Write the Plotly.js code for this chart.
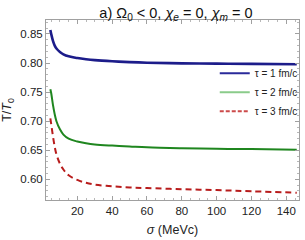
<!DOCTYPE html>
<html><head><meta charset="utf-8">
<script src="https://cdn.plot.ly/plotly-3.0.1.min.js"></script>
<style>body{margin:0;padding:0;background:#fff}#chart{width:305px;height:240px}</style>
</head><body><div id="chart"></div>
<script>
const sigma = [4.5, 5, 6, 7, 8, 10, 12, 15, 20, 25, 30, 40, 50, 60, 80, 100, 120, 146];
const tau1 = [0.857, 0.850, 0.838, 0.830, 0.825, 0.819, 0.815, 0.8115, 0.8085, 0.8065, 0.805, 0.803, 0.8015, 0.8005, 0.7995, 0.799, 0.7985, 0.798];
const tau2 = [0.755, 0.748, 0.728, 0.712, 0.700, 0.686, 0.677, 0.670, 0.665, 0.662, 0.660, 0.658, 0.6565, 0.655, 0.6535, 0.6525, 0.652, 0.651];
const tau3 = [0.705, 0.695, 0.674, 0.656, 0.643, 0.627, 0.617, 0.607, 0.599, 0.594, 0.591, 0.588, 0.586, 0.585, 0.583, 0.5815, 0.5795, 0.577];
const seriesNames = ['τ = 1 fm/c', 'τ = 2 fm/c', 'τ = 3 fm/c'];
const yTicks = [0.60, 0.65, 0.70, 0.75, 0.80, 0.85];
const xTicks = [20, 40, 60, 80, 100, 120, 140];

const cols = ['#1c1c8a', '#1f861f', '#b81c1c'];
const legCols = ['#2a2a9a', '#8acb8a', '#cc4a4a'];
const widths = [2.6, 2, 2];
const dashes = ['solid', 'solid', '6px,4px'];
const ys = [tau1, tau2, tau3];

const data = [];
ys.forEach((y, i) => {
  data.push({x: sigma, y: y, type: 'scatter', mode: 'lines', showlegend: false,
    line: {color: cols[i], width: widths[i], dash: dashes[i], shape: 'spline', smoothing: 1}});
});
seriesNames.forEach((n, i) => {
  data.push({x: [null], y: [null], type: 'scatter', mode: 'lines', name: n,
    line: {color: legCols[i], width: 2, dash: i === 2 ? '4px,2px' : 'solid'}});
});

const axCommon = {
  showgrid: false, zeroline: false, showline: true, linecolor: '#a0a0a0', linewidth: 1,
  mirror: 'ticks', ticks: 'inside', ticklen: 4, tickcolor: '#a0a0a0', tickwidth: 1,
  tickfont: {family: 'Liberation Sans, Arial, sans-serif', size: 11.5, color: '#222'},
  minor: {ticks: 'inside', ticklen: 2, tickcolor: '#b8b8b8'}
};

const layout = {
  width: 305, height: 240,
  margin: {l: 46, r: 2, t: 20, b: 40},
  paper_bgcolor: '#fff', plot_bgcolor: '#fff',
  font: {family: 'Liberation Sans, Arial, sans-serif', color: '#222'},
  title: {text: 'a) Ω<sub>0</sub> &lt; 0, <i>χ<sub>e</sub></i> = 0, <i>χ<sub>m</sub></i> = 0',
    font: {size: 14.5, color: '#111'}, x: 0.577, xanchor: 'center', y: 0.948, yanchor: 'middle', yref: 'container'},
  xaxis: Object.assign({}, axCommon, {range: [2, 147.3], tickvals: xTicks, ticktext: xTicks.map(String),
    minor: {ticks: 'inside', ticklen: 2, tickcolor: '#b8b8b8', dtick: 5, tick0: 0},
    title: {text: '<i>σ</i> (MeVc)', font: {size: 12.5, color: '#222'}, standoff: 9}}),
  yaxis: Object.assign({}, axCommon, {range: [0.5645, 0.874], tickvals: yTicks, ticktext: yTicks.map(v => v.toFixed(2)),
    minor: {ticks: 'inside', ticklen: 2, tickcolor: '#b8b8b8', dtick: 0.01, tick0: 0},
    title: {text: 'T/<i>T</i><sub>0</sub>', font: {size: 12.5, color: '#222'}, standoff: 5}}),
  legend: {x: 0.667, y: 0.785, xanchor: 'left', yanchor: 'top', bgcolor: 'rgba(0,0,0,0)',
    font: {size: 10, color: '#222'}, itemwidth: 30, tracegroupgap: 0}
};

Plotly.newPlot('chart', data, layout, {displayModeBar: false, staticPlot: true});
</script>
</body></html>
